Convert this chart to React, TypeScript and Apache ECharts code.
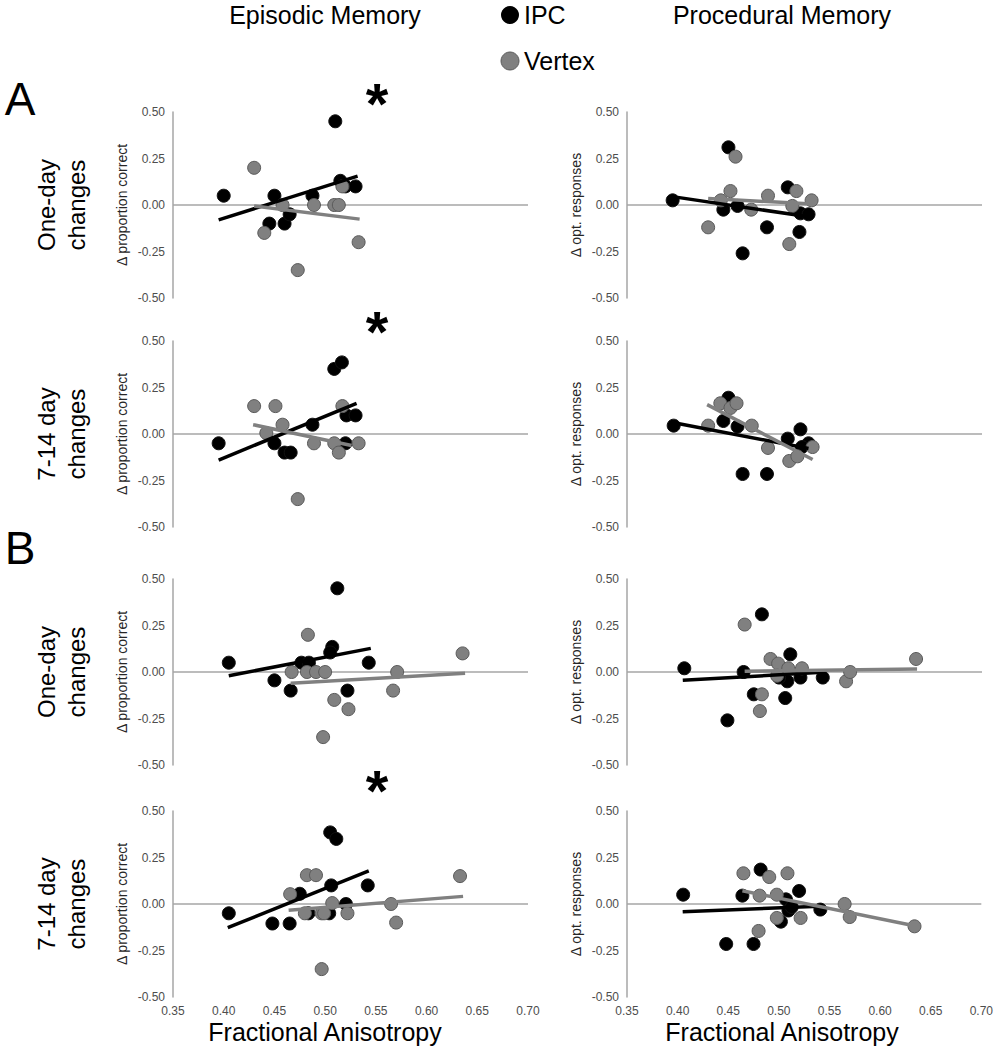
import React, { useEffect, useRef } from "react";
import * as echarts from "echarts";

const FONT = '"Liberation Sans", Arial, Helvetica, sans-serif';

const xMin = 0.35;
const xMax = 0.7;
const xStep = 0.05;
const yMin = -0.5;
const yMax = 0.5;
const yStep = 0.25;

const columnTitles = ["Episodic Memory", "Procedural Memory"];
const legendNames = ["IPC", "Vertex"];
const rowLabels = ["One-day\nchanges", "7-14 day\nchanges", "One-day\nchanges", "7-14 day\nchanges"];
const sectionLabels = ["A", "B"];
const xAxisTitle = "Fractional Anisotropy";

// Panel A – Episodic – One-day
const epiA1Ipc = [[0.4, 0.05], [0.45, 0.05], [0.445, -0.1], [0.46, -0.1], [0.465, -0.05], [0.4875, 0.05], [0.51, 0.45], [0.515, 0.13], [0.52, 0.1], [0.53, 0.1]];
const epiA1Vertex = [[0.43, 0.2], [0.44, -0.15], [0.458, 0], [0.473, -0.35], [0.489, 0], [0.509, 0], [0.5135, 0], [0.517, 0.1], [0.533, -0.2]];
const epiA1IpcFit = [[0.395, -0.08], [0.532, 0.155]];
const epiA1VertexFit = [[0.43, -0.005], [0.534, -0.076]];

// Panel A – Procedural – One-day
const proA1Ipc = [[0.395, 0.025], [0.45, 0.31], [0.445, -0.025], [0.459, -0.005], [0.464, -0.26], [0.488, -0.12], [0.5085, 0.095], [0.521, -0.045], [0.52, -0.145], [0.529, -0.05]];
const proA1Vertex = [[0.43, -0.12], [0.4425, 0.025], [0.457, 0.26], [0.452, 0.075], [0.4725, -0.025], [0.489, 0.05], [0.513, -0.005], [0.517, 0.075], [0.51, -0.21], [0.532, 0.025]];
const proA1IpcFit = [[0.395, 0.045], [0.531, -0.065]];
const proA1VertexFit = [[0.43, 0.035], [0.533, 0.005]];

// Panel A – Episodic – 7-14 day
const epiA2Ipc = [[0.395, -0.05], [0.45, -0.05], [0.46, -0.1], [0.466, -0.1], [0.4875, 0.05], [0.509, 0.35], [0.5165, 0.385], [0.521, 0.1], [0.53, 0.1], [0.52, -0.05]];
const epiA2Vertex = [[0.43, 0.15], [0.451, 0.15], [0.458, 0.05], [0.442, 0.005], [0.473, -0.35], [0.489, -0.05], [0.509, -0.05], [0.5135, -0.1], [0.517, 0.15], [0.533, -0.05]];
const epiA2IpcFit = [[0.395, -0.14], [0.531, 0.165]];
const epiA2VertexFit = [[0.429, 0.05], [0.526, -0.062]];

// Panel A – Procedural – 7-14 day
const proA2Ipc = [[0.396, 0.045], [0.45, 0.195], [0.445, 0.07], [0.459, 0.04], [0.464, -0.215], [0.488, -0.215], [0.5085, -0.025], [0.521, 0.025], [0.529, -0.05], [0.5225, -0.07]];
const proA2Vertex = [[0.43, 0.045], [0.442, 0.165], [0.452, 0.14], [0.458, 0.165], [0.473, 0.045], [0.489, -0.075], [0.51, -0.145], [0.518, -0.12], [0.533, -0.07]];
const proA2IpcFit = [[0.395, 0.062], [0.529, -0.078]];
const proA2VertexFit = [[0.429, 0.158], [0.533, -0.137]];

// Panel B – Episodic – One-day
const epiB1Ipc = [[0.405, 0.05], [0.45, -0.045], [0.466, -0.1], [0.4766, 0.05], [0.484, 0.05], [0.507, 0.135], [0.505, 0.105], [0.512, 0.45], [0.522, -0.1], [0.543, 0.05]];
const epiB1Vertex = [[0.467, 0], [0.483, 0.2], [0.482, 0], [0.491, 0], [0.5, 0], [0.509, -0.15], [0.523, -0.2], [0.498, -0.35], [0.567, -0.1], [0.571, 0], [0.6355, 0.1]];
const epiB1IpcFit = [[0.405, -0.02], [0.545, 0.127]];
const epiB1VertexFit = [[0.466, -0.06], [0.638, -0.007]];

// Panel B – Procedural – One-day
const proB1Ipc = [[0.4065, 0.02], [0.465, 0], [0.483, 0.31], [0.475, -0.12], [0.449, -0.26], [0.511, 0.095], [0.506, -0.14], [0.508, -0.05], [0.521, -0.03], [0.543, -0.03], [0.5, -0.03]];
const proB1Vertex = [[0.466, 0.255], [0.4915, 0.07], [0.499, 0.045], [0.509, 0.02], [0.5225, 0.02], [0.483, -0.12], [0.481, -0.21], [0.498, -0.02], [0.566, -0.05], [0.57, 0], [0.635, 0.07]];
const proB1IpcFit = [[0.405, -0.045], [0.542, -0.002]];
const proB1VertexFit = [[0.466, 0.004], [0.636, 0.016]];

// Panel B – Episodic – 7-14 day
const epiB2Ipc = [[0.405, -0.05], [0.448, -0.105], [0.465, -0.105], [0.475, 0.055], [0.4835, -0.05], [0.505, 0.385], [0.511, 0.35], [0.506, 0.1], [0.504, -0.05], [0.5205, 0], [0.542, 0.1]];
const epiB2Vertex = [[0.4655, 0.053], [0.482, 0.155], [0.491, 0.155], [0.48, -0.05], [0.4966, -0.05], [0.499, -0.05], [0.507, 0.005], [0.522, -0.05], [0.4966, -0.35], [0.565, 0], [0.57, -0.1], [0.633, 0.15]];
const epiB2IpcFit = [[0.404, -0.127], [0.543, 0.178]];
const epiB2VertexFit = [[0.464, -0.034], [0.636, 0.041]];

// Panel B – Procedural – 7-14 day
const proB2Ipc = [[0.4055, 0.05], [0.464, 0.045], [0.482, 0.185], [0.448, -0.215], [0.475, -0.215], [0.502, -0.095], [0.507, 0.025], [0.5095, -0.035], [0.5127, -0.016], [0.52, 0.07], [0.541, -0.03]];
const proB2Vertex = [[0.465, 0.165], [0.4905, 0.145], [0.5085, 0.165], [0.481, 0.045], [0.498, 0.05], [0.498, -0.075], [0.5215, -0.075], [0.48, -0.145], [0.565, 0], [0.57, -0.07], [0.634, -0.12]];
const proB2IpcFit = [[0.405, -0.042], [0.54, -0.012]];
const proB2VertexFit = [[0.464, 0.071], [0.635, -0.118]];

const yNameEpisodic = "Δ proportion correct";
const yNameProcedural = "Δ opt. responses";

const panelData = [
  { ipc: epiA1Ipc, vertex: epiA1Vertex, ipcFit: epiA1IpcFit, vertexFit: epiA1VertexFit, yName: yNameEpisodic },
  { ipc: proA1Ipc, vertex: proA1Vertex, ipcFit: proA1IpcFit, vertexFit: proA1VertexFit, yName: yNameProcedural },
  { ipc: epiA2Ipc, vertex: epiA2Vertex, ipcFit: epiA2IpcFit, vertexFit: epiA2VertexFit, yName: yNameEpisodic },
  { ipc: proA2Ipc, vertex: proA2Vertex, ipcFit: proA2IpcFit, vertexFit: proA2VertexFit, yName: yNameProcedural },
  { ipc: epiB1Ipc, vertex: epiB1Vertex, ipcFit: epiB1IpcFit, vertexFit: epiB1VertexFit, yName: yNameEpisodic },
  { ipc: proB1Ipc, vertex: proB1Vertex, ipcFit: proB1IpcFit, vertexFit: proB1VertexFit, yName: yNameProcedural },
  { ipc: epiB2Ipc, vertex: epiB2Vertex, ipcFit: epiB2IpcFit, vertexFit: epiB2VertexFit, yName: yNameEpisodic },
  { ipc: proB2Ipc, vertex: proB2Vertex, ipcFit: proB2IpcFit, vertexFit: proB2VertexFit, yName: yNameProcedural },
];

// layout
const colLeft = [173, 627];
const colWidth = 355;
const rowTop = [112, 341, 579, 811];
const rowHeight = 186;

const BLACK = "#000000";
const GRAY = "#808080";
const AXIS_GRAY = "#a6a6a6";
const LABEL_GRAY = "#4d4d4d";

function buildOption() {
  const grid: any[] = [];
  const xAxis: any[] = [];
  const yAxis: any[] = [];
  const series: any[] = [];

  panelData.forEach((p, i) => {
    const row = Math.floor(i / 2);
    const col = i % 2;
    grid.push({ left: colLeft[col], top: rowTop[row], width: colWidth, height: rowHeight, containLabel: false });
    xAxis.push({
      gridIndex: i,
      type: "value",
      min: xMin,
      max: xMax,
      interval: xStep,
      axisLine: { show: false },
      axisTick: { show: false },
      splitLine: { show: false },
      axisLabel: {
        show: row === 3,
        formatter: (v: number) => v.toFixed(2),
        color: LABEL_GRAY,
        fontSize: 12,
        fontFamily: FONT,
        margin: 8,
      },
    });
    yAxis.push({
      gridIndex: i,
      type: "value",
      min: yMin,
      max: yMax,
      interval: yStep,
      name: p.yName,
      nameLocation: "middle",
      nameGap: 44,
      nameTextStyle: { fontSize: 14, color: "#262626", fontFamily: FONT },
      axisLine: { show: true, onZero: false, lineStyle: { color: AXIS_GRAY, width: 1.5 } },
      axisTick: { show: false },
      splitLine: { show: false },
      axisLabel: {
        formatter: (v: number) => v.toFixed(2),
        color: LABEL_GRAY,
        fontSize: 12,
        fontFamily: FONT,
        margin: 8,
      },
    });
    series.push({
      type: "line",
      xAxisIndex: i,
      yAxisIndex: i,
      data: [[xMin, 0], [xMax, 0]],
      symbol: "none",
      silent: true,
      lineStyle: { color: AXIS_GRAY, width: 1.5 },
      z: 1,
    });
    series.push({
      name: legendNames[0],
      type: "scatter",
      xAxisIndex: i,
      yAxisIndex: i,
      data: p.ipc,
      symbolSize: 13,
      itemStyle: { color: BLACK, borderColor: "#111", borderWidth: 1, opacity: 1 },
      z: 2,
    });
    series.push({
      name: legendNames[1],
      type: "scatter",
      xAxisIndex: i,
      yAxisIndex: i,
      data: p.vertex,
      symbolSize: 13,
      itemStyle: { color: GRAY, borderColor: "#5a5a5a", borderWidth: 1, opacity: 1 },
      z: 3,
    });
    series.push({
      type: "line",
      xAxisIndex: i,
      yAxisIndex: i,
      data: p.ipcFit,
      symbol: "none",
      lineStyle: { color: BLACK, width: 3.5 },
      z: 4,
    });
    series.push({
      type: "line",
      xAxisIndex: i,
      yAxisIndex: i,
      data: p.vertexFit,
      symbol: "none",
      lineStyle: { color: GRAY, width: 3.5 },
      z: 5,
    });
  });

  const graphic: any[] = [];
  const txt = (text: string, x: number, y: number, size: number, extra: any = {}) => ({
    type: "text",
    x,
    y,
    style: {
      text,
      font: `${extra.weight || "normal"} ${size}px ${FONT}`,
      fill: extra.fill || "#000",
      textAlign: extra.align || "center",
      textVerticalAlign: "middle",
      lineHeight: extra.lineHeight,
    },
    rotation: extra.rotation || 0,
  });

  graphic.push(txt(columnTitles[0], 325, 15, 25));
  graphic.push(txt(columnTitles[1], 782, 15, 25));
  graphic.push({ type: "circle", shape: { cx: 510, cy: 15, r: 9 }, style: { fill: BLACK } });
  graphic.push(txt(legendNames[0], 524, 15, 25, { align: "left" }));
  graphic.push({ type: "circle", shape: { cx: 510, cy: 61, r: 9 }, style: { fill: GRAY, stroke: "#5a5a5a", lineWidth: 1 } });
  graphic.push(txt(legendNames[1], 524, 61, 25, { align: "left" }));
  graphic.push(txt(sectionLabels[0], 20, 99, 46));
  graphic.push(txt(sectionLabels[1], 20, 548, 46));
  rowLabels.forEach((label, r) => {
    graphic.push(txt(label, 61, rowTop[r] + rowHeight / 2, 24, { rotation: Math.PI / 2, lineHeight: 30 }));
  });
  [95, 323, 782].forEach((y) => {
    graphic.push(txt("*", 377, y + 8, 58, { weight: "bold" }));
  });
  graphic.push(txt(xAxisTitle, 325, 1032, 25));
  graphic.push(txt(xAxisTitle, 782, 1032, 25));

  return {
    animation: false,
    backgroundColor: "#ffffff",
    textStyle: { fontFamily: FONT },
    grid,
    xAxis,
    yAxis,
    series,
    graphic,
  };
}

export default function App() {
  const ref = useRef<HTMLDivElement>(null);
  useEffect(() => {
    if (!ref.current) return;
    const chart = echarts.init(ref.current, undefined, { renderer: "svg" });
    chart.setOption(buildOption());
    return () => chart.dispose();
  }, []);
  return (
    <div
      ref={ref}
      style={{ position: "absolute", left: 0, top: 0, width: 996, height: 1050, background: "#fff" }}
    />
  );
}
